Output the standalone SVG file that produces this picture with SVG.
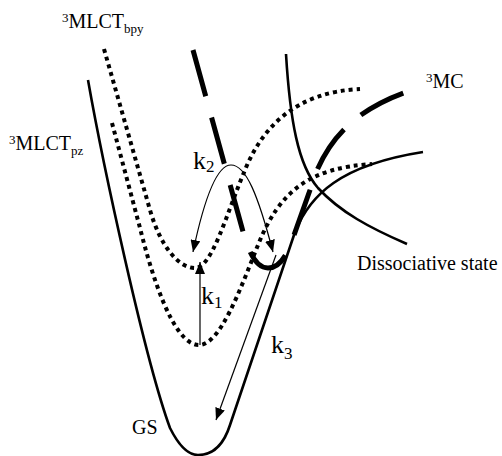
<svg xmlns="http://www.w3.org/2000/svg" width="502" height="456" viewBox="0 0 502 456">
<style>
.solid{fill:none;stroke:#000;stroke-width:2.6}
.dot{fill:none;stroke:#000;stroke-width:4;stroke-dasharray:4 4}
.dash{fill:none;stroke:#000;stroke-width:5;stroke-dasharray:48 22}
.arr{fill:none;stroke:#000;stroke-width:1.2;marker-end:url(#ah)}
text{font-family:"Liberation Serif","Times New Roman",serif;fill:#000}
.lbl{font-size:20px}
.k{font-size:26px}
.sm{font-size:13px}
.ks{font-size:17px}
</style>
<defs>
<marker id="ah" viewBox="0 0 12 10" refX="12" refY="5" markerWidth="12" markerHeight="10" markerUnits="userSpaceOnUse" orient="auto">
<path d="M0,0 L12,5 L0,10 Z" fill="#000"/>
</marker>
</defs>
<g id="curves">
<g id="gs"><path class="solid" d="M88,80 C103,165 145,360 170,428 C180,448 189,455 198,455 C212,455 223,447 230,425 L295,232 C310,195 340,165 423,152"/></g>
<g id="dissociative"><path class="solid" d="M286,54 C290,120 298,165 318,188 C340,212 370,228 407,244"/></g>
<g id="mlct-bpy"><path class="dot" d="M104,49 L150,210 C160,245 178,268 195,268 C212,268 226,215 245,170 C262,128 295,92 360,89"/></g>
<g id="mlct-pz"><path class="dot" d="M112,123 L140,228 C150,268 172,345 199,345 C220,345 240,290 258,245 C280,190 310,168 372,164"/></g>
<g id="mc"><path class="dash" d="M193,50 L242,228 C248,250 255,268 268,268 C280,268 287,255 293,238 L310,190 C322,150 345,112 412,90"/></g>
</g>
<g id="connectors">
<path class="arr" d="M231,165 C218,165 205,195 193,252"/>
<path class="arr" d="M231,165 C246,165 258,195 273,252"/>
<path class="arr" d="M200,345 L200,262"/>
<path class="arr" d="M276,255 L216,420"/>
</g>
<g id="labels">
<text class="lbl" x="62" y="28"><tspan class="sm" dy="-6">3</tspan><tspan dy="6">MLCT</tspan><tspan class="sm" dy="5">bpy</tspan></text>
<text class="lbl" x="9" y="150"><tspan class="sm" dy="-6">3</tspan><tspan dy="6">MLCT</tspan><tspan class="sm" dy="5">pz</tspan></text>
<text class="lbl" x="426" y="88"><tspan class="sm" dy="-6">3</tspan><tspan dy="6">MC</tspan></text>
<text class="lbl" x="357" y="270">Dissociative state</text>
<text class="lbl" x="132" y="434">GS</text>
<text class="k" x="193" y="169">k<tspan class="ks" dy="3">2</tspan></text>
<text class="k" x="201" y="304">k<tspan class="ks" dy="4">1</tspan></text>
<text class="k" x="271" y="353">k<tspan class="ks" dy="6">3</tspan></text>
</g>
</svg>
